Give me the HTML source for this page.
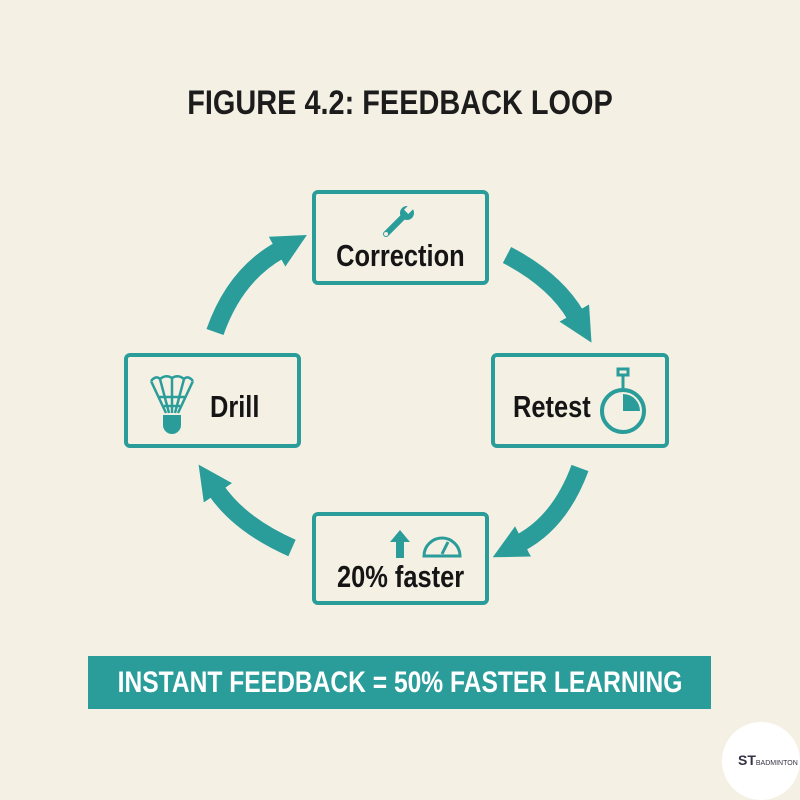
<!DOCTYPE html>
<html><head><meta charset="utf-8"><style>
body{margin:0;width:800px;height:800px;background:#f5f0e4;position:relative;overflow:hidden;font-family:"Liberation Sans",sans-serif;}
.t{position:absolute;left:0;width:800px;text-align:center;top:84px;font-size:34px;font-weight:bold;color:#1c1c1c;transform:scaleX(0.85);white-space:nowrap;}
.box{position:absolute;border:4px solid #2a9d9a;border-radius:6px;box-sizing:border-box;background:#f5f0e4;font-weight:bold;color:#151515;font-size:31px;}
.s{display:inline-block;transform:scaleX(0.82);transform-origin:left center;white-space:nowrap;}
.c{display:inline-block;transform:scaleX(0.82);white-space:nowrap;}
.banner{position:absolute;left:88px;top:656px;width:623px;height:53px;background:#2a9d9a;color:#fff;font-weight:bold;font-size:30px;line-height:53px;white-space:nowrap;}
.banner span{position:absolute;left:50%;top:0;transform:translateX(-50%) scaleX(0.82);}
.logo{position:absolute;left:722px;top:722px;width:78px;height:78px;border-radius:50%;background:#fff;}
</style></head><body>
<div class="t">FIGURE 4.2: FEEDBACK LOOP</div>
<svg width="800" height="800" style="position:absolute;left:0;top:0">
<defs><marker id="a" viewBox="0 0 10 10" refX="1" refY="5" markerWidth="1.9" markerHeight="2.7" orient="auto"><path d="M0,0 L10,5 L0,10z" fill="#2a9d9a"/></marker></defs>
<g stroke="#2a9d9a" stroke-width="18" fill="none" marker-end="url(#a)">
<path d="M215,332 Q235,275 280,250"/>
<path d="M507,255 Q555,280 576,316"/>
<path d="M580,468 Q560,522 520,543"/>
<path d="M292,548 Q240,525 216,490"/>
</g></svg>
<div class="box" style="left:312px;top:190px;width:177px;height:95px;"><div style="position:absolute;top:44px;width:100%;text-align:center"><span class="c">Correction</span></div>
<svg style="position:absolute;left:64px;top:10px" width="40" height="36"><path d="M6,30 L24,12" stroke="#2a9d9a" stroke-width="6" stroke-linecap="round"/><circle cx="27" cy="9" r="7" fill="#2a9d9a"/><rect x="26" y="0" width="6" height="9" fill="#f5f0e4" transform="rotate(45 29 5)"/><circle cx="6" cy="30" r="2" fill="#f5f0e4"/></svg></div>
<div class="box" style="left:124px;top:353px;width:177px;height:95px;"><div style="position:absolute;left:82px;top:32px"><span class="s">Drill</span></div>
<svg style="position:absolute;left:20px;top:16px" width="48" height="62"><g stroke="#2a9d9a" stroke-width="2.5" fill="none"><path d="M3,8 L18,40 M12,6 L21,40 M24,5 L24,40 M36,6 L27,40 M45,8 L30,40 M3,8 Q8,2 12,6 Q18,1 24,5 Q30,1 36,6 Q40,2 45,8 M10,24 H38 M16,33 H32"/></g><path d="M15,42 H33 V52 A9,9 0 0 1 15,52 Z" fill="#2a9d9a"/></svg></div>
<div class="box" style="left:491px;top:353px;width:178px;height:95px;"><div style="position:absolute;left:18px;top:32px"><span class="s">Retest</span></div>
<svg style="position:absolute;left:102px;top:10px" width="54" height="72"><rect x="21" y="2" width="10" height="6" fill="none" stroke="#2a9d9a" stroke-width="3"/><circle cx="26" cy="44" r="21" fill="none" stroke="#2a9d9a" stroke-width="4"/><path d="M26,44 V27 A17,17 0 0 1 43,44 Z" fill="#2a9d9a"/><path d="M26,8 V21" stroke="#2a9d9a" stroke-width="3"/></svg></div>
<div class="box" style="left:312px;top:512px;width:177px;height:93px;"><div style="position:absolute;top:43px;width:100%;text-align:center"><span class="c">20% faster</span></div>
<svg style="position:absolute;left:70px;top:12px" width="90" height="32"><path d="M4,14 L14,2 L24,14 H18 V30 H10 V14Z" fill="#2a9d9a"/><path d="M38,28 A18,18 0 1 1 74,28 Z" fill="none" stroke="#2a9d9a" stroke-width="3"/><path d="M56,26 L62,14" stroke="#2a9d9a" stroke-width="3"/></svg></div>
<div class="banner"><span>INSTANT FEEDBACK = 50% FASTER LEARNING</span></div>
<div class="logo"><div style="position:absolute;left:16px;top:30px;font-size:14px;font-weight:bold;color:#334">ST<span style="font-size:7px;font-weight:normal">BADMINTON</span></div></div>
</body></html>
